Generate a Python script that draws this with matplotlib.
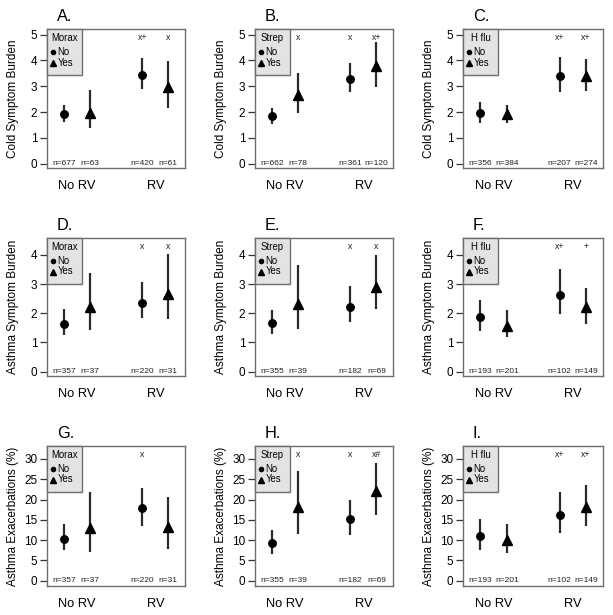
import matplotlib
matplotlib.use("Agg")
import matplotlib.pyplot as plt
from matplotlib.patches import Rectangle

plt.rcParams['font.family'] = ['Liberation Sans', 'DejaVu Sans']

# ---- data ----
panel_letters = ["A.", "B.", "C.", "D.", "E.", "F.", "G.", "H.", "I."]
bacteria = ["Morax", "Strep", "H flu"]
row_ylabels = ["Cold Symptom Burden", "Asthma Symptom Burden", "Asthma Exacerbations (%)"]
group_labels = ["No RV", "RV"]
# order within each panel: NoRV-No, NoRV-Yes, RV-No, RV-Yes
estimates = [
    [1.93, 1.97, 3.45, 2.96],
    [1.83, 2.65, 3.29, 3.78],
    [1.96, 1.91, 3.41, 3.39],
    [1.62, 2.22, 2.36, 2.67],
    [1.65, 2.32, 2.21, 2.90],
    [1.87, 1.56, 2.63, 2.21],
    [10.3, 13.1, 18.0, 13.2],
    [9.2, 18.2, 15.2, 22.1],
    [10.9, 10.0, 16.3, 18.2],
]
lower = [
    [1.61, 1.39, 2.90, 2.16],
    [1.52, 1.97, 2.77, 2.96],
    [1.58, 1.56, 2.77, 2.80],
    [1.26, 1.43, 1.85, 1.79],
    [1.28, 1.45, 1.70, 2.13],
    [1.39, 1.19, 1.96, 1.62],
    [7.5, 7.1, 13.6, 7.9],
    [6.6, 11.4, 11.3, 16.1],
    [7.6, 6.8, 11.8, 13.5],
]
upper = [
    [2.26, 2.87, 4.08, 3.97],
    [2.15, 3.52, 3.90, 4.70],
    [2.38, 2.28, 4.12, 4.05],
    [2.13, 3.38, 3.07, 4.03],
    [2.11, 3.65, 2.92, 4.00],
    [2.47, 2.11, 3.52, 2.88],
    [13.9, 21.8, 22.9, 20.6],
    [12.4, 27.1, 19.9, 29.1],
    [15.2, 14.1, 21.9, 23.5],
]
n_labels = [
    ["n=677", "n=63", "n=420", "n=61"],
    ["n=662", "n=78", "n=361", "n=120"],
    ["n=356", "n=384", "n=207", "n=274"],
    ["n=357", "n=37", "n=220", "n=31"],
    ["n=355", "n=39", "n=182", "n=69"],
    ["n=193", "n=201", "n=102", "n=149"],
    ["n=357", "n=37", "n=220", "n=31"],
    ["n=355", "n=39", "n=182", "n=69"],
    ["n=193", "n=201", "n=102", "n=149"],
]
sig_labels = [
    ["", "", "x+", "x"],
    ["", "x", "x", "x+"],
    ["", "", "x+", "x+"],
    ["", "", "x", "x"],
    ["", "", "x", "x"],
    ["", "", "x+", "+"],
    ["", "", "x", ""],
    ["", "x", "x", "x#"],
    ["", "", "x+", "x+"],
]
row_yticks = [[0, 1, 2, 3, 4, 5], [0, 1, 2, 3, 4], [0, 5, 10, 15, 20, 25, 30]]
row_ylims = [(-0.17, 5.22), (-0.15, 4.58), (-1.3, 33.2)]

positions = [1, 2, 4, 5]
markers = ["o", "^", "o", "^"]
msizes = [5.4, 7.0, 5.4, 7.0]

W, H = 613, 615
fig = plt.figure(figsize=(W / 100, H / 100), dpi=100)

col_px = [(47, 185), (255, 393), (463, 603)]
row_px = [(29, 168), (238, 376), (446, 586)]

frame_col = "#6e6e6e"
bar_col = "#2b2b2b"

for i in range(9):
    r, c = divmod(i, 3)
    x0, x1 = col_px[c]
    y0, y1 = row_px[r]
    ax = fig.add_axes([x0 / W, 1 - y1 / H, (x1 - x0) / W, (y1 - y0) / H])
    ax.set_xlim(0.34, 5.64)
    ax.set_ylim(*row_ylims[r])
    for k in range(4):
        ax.plot([positions[k], positions[k]], [lower[i][k], upper[i][k]],
                color=bar_col, lw=1.6, solid_capstyle="butt", zorder=2)
        ax.plot(positions[k], estimates[i][k], marker=markers[k], ms=msizes[k],
                color="black", mec="black", zorder=3)
        ax.text(positions[k], 0, n_labels[i][k], ha="center", va="center",
                fontsize=6, color="#222222")
        if sig_labels[i][k]:
            ax.text(positions[k], 0.94, sig_labels[i][k], ha="center", va="center",
                    fontsize=6.3, color="#222222",
                    transform=ax.get_xaxis_transform())
    ax.set_yticks(row_yticks[r])
    ax.set_yticklabels([str(t) for t in row_yticks[r]], fontsize=8.5)
    ax.tick_params(axis="y", length=5, width=0.9, pad=2, color="#333333")
    ax.set_xticks([1.5, 4.5])
    ax.set_xticklabels(group_labels, fontsize=9.3)
    ax.tick_params(axis="x", length=0, pad=8.5)
    for sp in ax.spines.values():
        sp.set_color(frame_col)
        sp.set_linewidth(1.0)
    ax.set_ylabel(row_ylabels[r], fontsize=8.5)
    ax.yaxis.set_label_coords(-0.2, 0.5)
    ax.text(0.07, 1.035, panel_letters[i], transform=ax.transAxes,
            ha="left", va="bottom", fontsize=11.8)
    # legend box
    lw_ax = 35 / (x1 - x0)
    lh_ax = 46 / (y1 - y0)
    ax.add_patch(Rectangle((0, 1 - lh_ax), lw_ax, lh_ax, transform=ax.transAxes,
                           facecolor="#e3e3e3", edgecolor=frame_col, lw=1.0,
                           zorder=4, clip_on=False))
    ax.text(lw_ax / 2, 1 - 9 / (y1 - y0), bacteria[c], transform=ax.transAxes,
            ha="center", va="center", fontsize=6.9, zorder=5)
    for j, (mk, lab, ms) in enumerate([("o", "No", 3.0), ("^", "Yes", 4.0)]):
        yy = 1 - (23 + 10.5 * j) / (y1 - y0)
        ax.plot(6 / (x1 - x0), yy, marker=mk, ms=ms, color="black",
                transform=ax.transAxes, zorder=5, clip_on=False)
        ax.text(10.5 / (x1 - x0), yy, lab, transform=ax.transAxes,
                ha="left", va="center", fontsize=6.9, zorder=5)

fig.savefig("out.png", dpi=100)
